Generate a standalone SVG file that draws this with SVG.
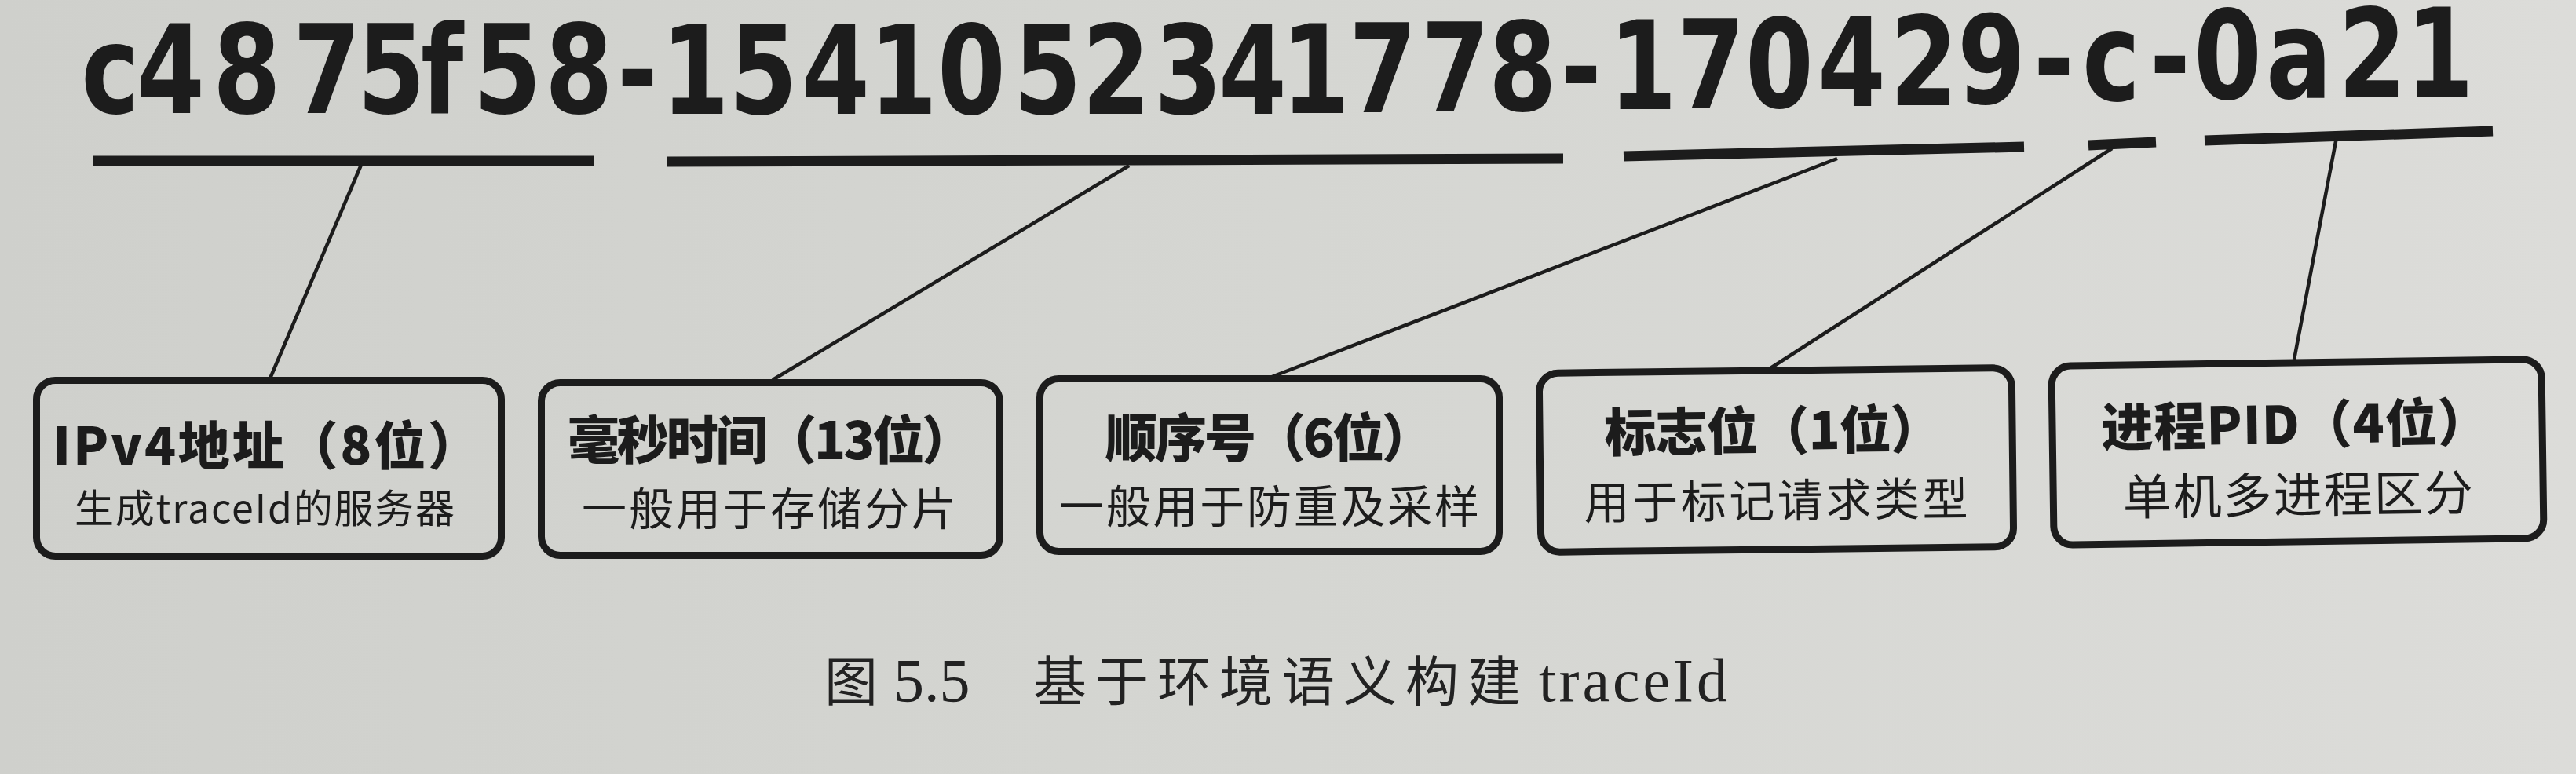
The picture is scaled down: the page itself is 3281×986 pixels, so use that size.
<svg xmlns="http://www.w3.org/2000/svg" width="3281" height="986" viewBox="0 0 3281 986">
<defs>
<linearGradient id="paper" x1="0" y1="0" x2="1" y2="0">
<stop offset="0" stop-color="#cfd0cc"/>
<stop offset="0.5" stop-color="#d5d6d2"/>
<stop offset="1" stop-color="#dcdcd9"/>
</linearGradient>
<style>
.box{fill:none;stroke:#1c1c1c;stroke-width:9}
.bar{stroke:#1c1c1c;stroke-width:13;stroke-linecap:butt;fill:none}
.link{stroke:#1c1c1c;stroke-width:4.5;fill:none}
.id{font-family:"DejaVu Sans","Liberation Sans",sans-serif;font-weight:bold;font-size:156px;fill:#1c1c1c}
.title{font-family:"Noto Sans CJK SC","Noto Sans",sans-serif;font-weight:900;font-size:66px;fill:#1c1c1c}
.sub{font-family:"Noto Sans CJK SC","Noto Sans",sans-serif;font-weight:normal;fill:#1c1c1c}
.cap-cjk{font-family:"Noto Sans CJK SC",sans-serif;font-size:68px;fill:#222}
.cap-lat{font-family:"Liberation Serif","Noto Sans CJK SC",serif;font-size:78px;fill:#222}
</style>
</defs>
<rect x="0" y="0" width="3281" height="986" fill="url(#paper)"/>

<g id="trace-id">
<text class="id" transform="scale(0.8,1)" x="129 217.5 338.75 466.25 568.75 670 753.75 867.5 982.5 1052.5 1161.25 1276.25 1383.75 1492.5 1613.75 1722.5 1837.5 1940 2040 2147.5 2262.5 2370 2485 2561.25 2670 2778.75 2893.75 3008.75 3116.25 3237.5 3315 3422.5 3492.5 3607.5 3722.5 3830" y="144 144 144 144 144 144 144 144 144 145 145 145 145 145 145 145 145 145 144 143 142 141 140 139 138 137 135 134 132 130 128 127 126 125 124 123">c4875f58-1541052341778-170429-c-0a21</text>
</g>

<g id="connectors">
<line class="bar" x1="119" y1="205" x2="756" y2="205"/>
<line class="bar" x1="850" y1="206" x2="1991" y2="202"/>
<line class="bar" x1="2068" y1="199" x2="2578" y2="187"/>
<line class="bar" x1="2660" y1="185" x2="2746" y2="181"/>
<line class="bar" x1="2808" y1="179" x2="3175" y2="167"/>
<line class="link" x1="460" y1="210" x2="344" y2="482"/>
<line class="link" x1="1438" y1="211" x2="984" y2="484"/>
<line class="link" x1="2340" y1="202" x2="1620" y2="480"/>
<line class="link" x1="2690" y1="189" x2="2255" y2="469"/>
<line class="link" x1="2976" y1="175" x2="2922" y2="458"/>
</g>

<g id="node-ipv4">
<rect class="box" x="46.5" y="484.5" width="592" height="224" rx="24"/>
<text class="title" x="67" y="592" textLength="544" lengthAdjust="spacing">IPv4地址（8位）</text>
<text class="sub" x="95" y="666" font-size="50" textLength="484" lengthAdjust="spacing">生成traceId的服务器</text>
</g>

<g id="node-millis">
<rect class="box" x="689.5" y="487.5" width="584" height="220" rx="24"/>
<text class="title" x="723" y="585" textLength="517" lengthAdjust="spacing">毫秒时间（13位）</text>
<text class="sub" x="741" y="669" font-size="57" textLength="477" lengthAdjust="spacing">一般用于存储分片</text>
</g>

<g id="node-seq">
<rect class="box" x="1324.5" y="482.5" width="585" height="220" rx="24"/>
<text class="title" x="1408" y="582" textLength="418" lengthAdjust="spacing">顺序号（6位）</text>
<text class="sub" x="1349" y="666" font-size="57" textLength="535" lengthAdjust="spacing">一般用于防重及采样</text>
</g>

<g id="node-flag" transform="rotate(-0.65 2262 586)">
<rect class="box" x="1961.5" y="472" width="602" height="228" rx="24"/>
<text class="title" x="2044" y="573" textLength="430" lengthAdjust="spacing">标志位（1位）</text>
<text class="sub" x="2017" y="659" font-size="58" textLength="489" lengthAdjust="spacing">用于标记请求类型</text>
</g>

<g id="node-pid" transform="rotate(-0.8 2926 576)">
<rect class="box" x="2614.5" y="462" width="624" height="228" rx="24"/>
<text class="title" x="2677" y="565" textLength="494" lengthAdjust="spacing">进程PID（4位）</text>
<text class="sub" x="2703" y="653" font-size="62" textLength="446" lengthAdjust="spacing">单机多进程区分</text>
</g>

<g id="caption">
<text y="893"><tspan class="cap-cjk" x="1050">图 </tspan><tspan class="cap-lat" x="1138">5.5 </tspan><tspan class="cap-cjk" x="1316" letter-spacing="11">基于环境语义构建 </tspan><tspan class="cap-lat" x="1960" textLength="240" lengthAdjust="spacing">traceId</tspan></text>
</g>
</svg>
